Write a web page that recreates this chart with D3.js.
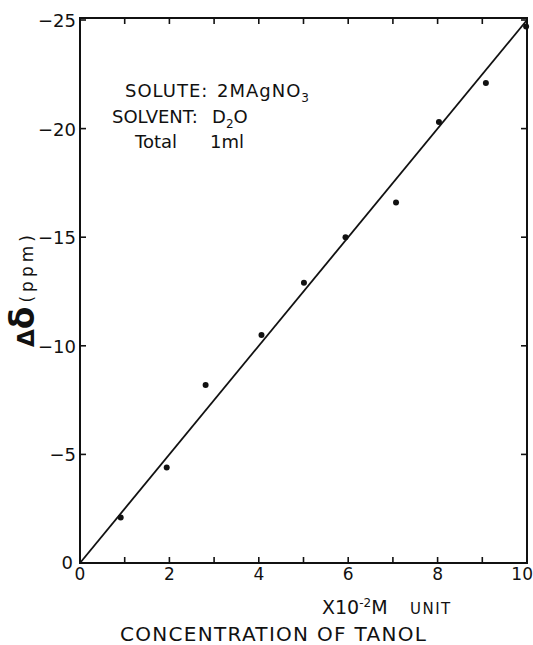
<!DOCTYPE html>
<html>
<head>
<meta charset="utf-8">
<script src="https://cdn.jsdelivr.net/npm/d3@7"></script>
<style>
body { margin: 0; background: #fff; }
text { font-family: "DejaVu Sans", sans-serif; fill: #111; }
</style>
</head>
<body>
<svg width="533" height="645"></svg>
<script>
var conc = [0.91, 1.94, 2.81, 4.06, 5.01, 5.94, 7.07, 8.03, 9.08, 9.98];
var shift = [-2.1, -4.4, -8.2, -10.5, -12.9, -15.0, -16.6, -20.3, -22.1, -24.7];
var fitLine = [[0, 0], [10, -25]];
var xTicks = [0, 1, 2, 3, 4, 5, 6, 7, 8, 9, 10];
var xLabels = [0, 2, 4, 6, 8, 10];
var yTicks = [0, -5, -10, -15, -20, -25];

var svg = d3.select('svg');
var mLeft = 80, mRight = 527, mTop = 20, mBottom = 563;

var x = d3.scaleLinear().domain([0, 10]).range([mLeft, mRight]);
var y = d3.scaleLinear().domain([0, -25]).range([mBottom, mTop]);

// frame
svg.append('rect')
	.attr('x', mLeft).attr('y', mTop - 2)
	.attr('width', mRight - mLeft).attr('height', mBottom - mTop + 2)
	.attr('fill', 'none').attr('stroke', '#111').attr('stroke-width', 2);

// ticks, all pointing inward
var g = svg.append('g').attr('stroke', '#111').attr('stroke-width', 1.6);
xTicks.forEach(function(d) {
	g.append('line').attr('x1', x(d)).attr('x2', x(d)).attr('y1', mBottom).attr('y2', mBottom - 6);
	g.append('line').attr('x1', x(d)).attr('x2', x(d)).attr('y1', mTop - 2).attr('y2', mTop + 4);
});
yTicks.forEach(function(d) {
	g.append('line').attr('x1', mLeft).attr('x2', mLeft + 6).attr('y1', y(d)).attr('y2', y(d));
	g.append('line').attr('x1', mRight).attr('x2', mRight - 6).attr('y1', y(d)).attr('y2', y(d));
});

// tick labels
svg.append('g').selectAll('text').data(xLabels).enter().append('text')
	.attr('x', function(d) { return x(d); })
	.attr('y', 580)
	.attr('text-anchor', function(d) { return d == 10 ? 'end' : 'middle'; })
	.attr('dx', function(d) { return d == 10 ? 6 : 0; })
	.style('font-size', '17px')
	.text(function(d) { return d; });

svg.append('g').selectAll('text').data(yTicks).enter().append('text')
	.attr('x', function(d) { return d == 0 ? mLeft - 7 : mLeft - 4; })
	.attr('y', function(d) { return d == 0 ? y(d) + 6 : y(d) + 7; })
	.attr('text-anchor', 'end')
	.style('font-size', '18px')
	.text(function(d) { return d == 0 ? '0' : '\u2212' + Math.abs(d); });

// fitted line
svg.append('path')
	.datum(fitLine)
	.attr('d', d3.line().x(function(d) { return x(d[0]); }).y(function(d) { return y(d[1]); }))
	.attr('fill', 'none').attr('stroke', '#111').attr('stroke-width', 1.8);

// points
svg.append('g').selectAll('circle').data(conc).enter().append('circle')
	.attr('cx', function(d) { return x(d); })
	.attr('cy', function(d, i) { return y(shift[i]); })
	.attr('r', 3)
	.attr('fill', '#111');

// annotation block
var note = svg.append('g').style('font-size', '18px');
var t1 = note.append('text').attr('x', 125).attr('y', 97);
t1.append('tspan').style('letter-spacing', '1px').text('SOLUTE:');
t1.append('tspan').attr('x', 217).style('letter-spacing', '1px').text('2MAgNO');
t1.append('tspan').attr('dy', 5).style('font-size', '12px').text('3');
var t2 = note.append('text').attr('x', 112).attr('y', 123);
t2.append('tspan').text('SOLVENT:');
t2.append('tspan').attr('x', 212).text('D');
t2.append('tspan').attr('dy', 5).style('font-size', '12px').text('2');
t2.append('tspan').attr('dy', -5).text('O');
var t3 = note.append('text').attr('x', 135).attr('y', 148);
t3.append('tspan').text('Total');
t3.append('tspan').attr('x', 210).text('1ml');

// x axis titles
var u = svg.append('text').attr('x', 322).attr('y', 614).style('font-size', '19px');
u.append('tspan').text('X10');
u.append('tspan').attr('dy', -7).style('font-size', '12px').text('-2');
u.append('tspan').attr('dy', 7).text('M');
u.append('tspan').attr('x', 410).style('font-size', '15px').style('letter-spacing', '1.5px').text('UNIT');

svg.append('text')
	.attr('x', 120).attr('y', 641)
	.style('font-size', '20px')
	.style('letter-spacing', '1.3px')
	.text('CONCENTRATION OF TANOL');

// y axis title
var yt = svg.append('text')
	.attr('transform', 'translate(34,347) rotate(-90)')
	.attr('text-anchor', 'start');
yt.append('tspan').style('font-size', '23px').style('font-weight', 'bold').text('\u0394');
yt.append('tspan').style('font-size', '33px').style('font-weight', 'bold').text('\u03b4');
yt.append('tspan').attr('dx', 4).attr('dy', -1).style('font-size', '17px').style('letter-spacing', '4px').text('(ppm)');
</script>
</body>
</html>
